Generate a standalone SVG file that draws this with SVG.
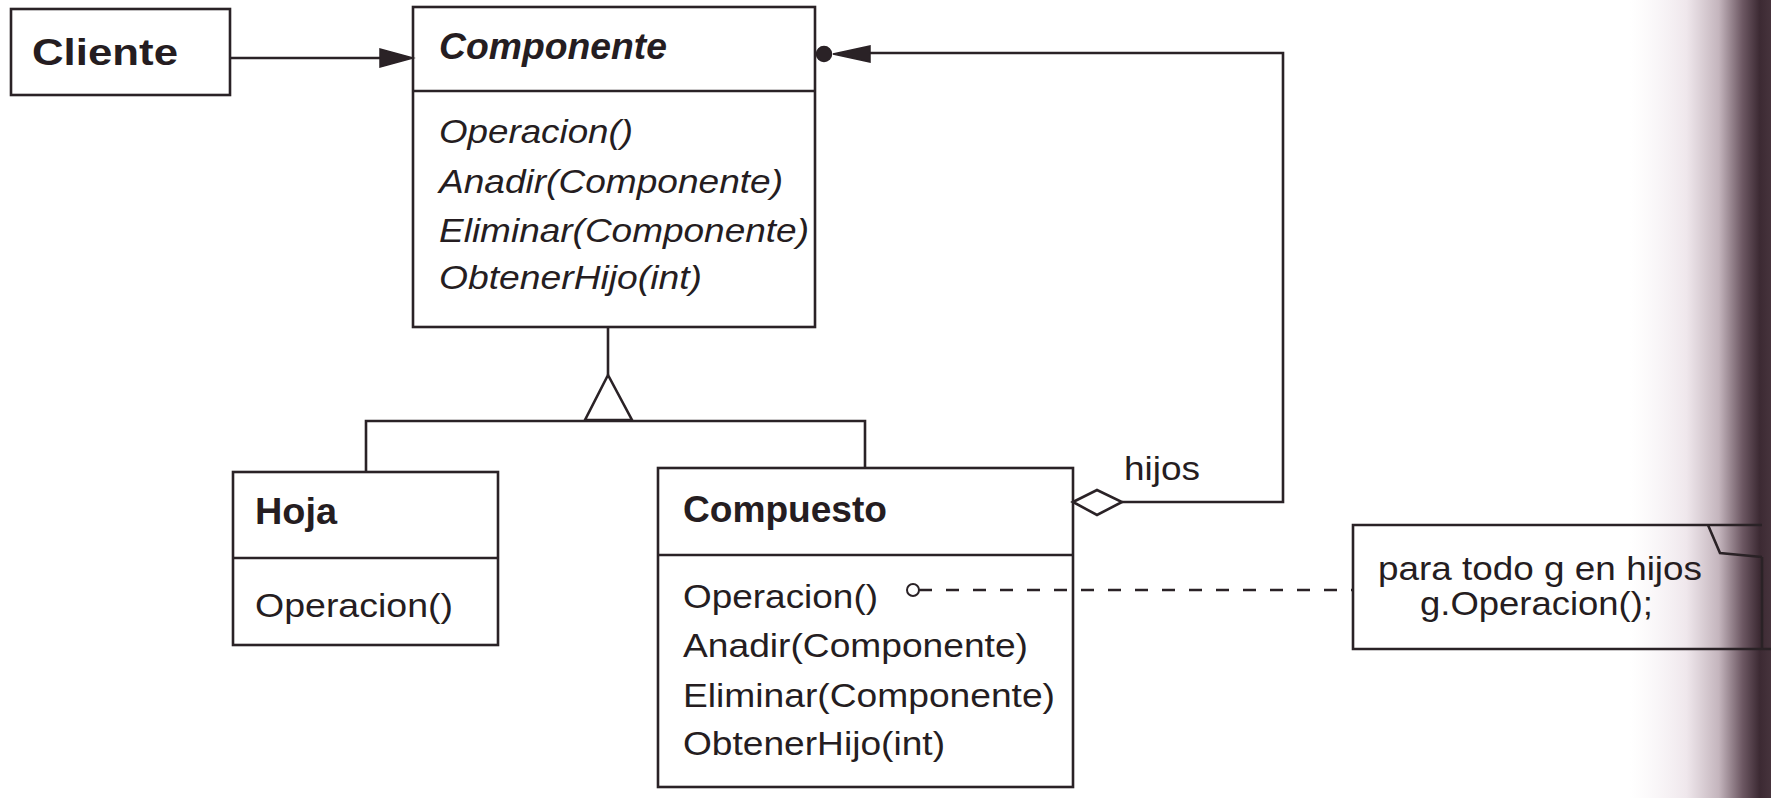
<svg xmlns="http://www.w3.org/2000/svg" width="1771" height="798" viewBox="0 0 1771 798">
  <style>
    .box { fill: none; stroke: #2a2226; stroke-width: 2.6; }
    .line { fill: none; stroke: #2a2226; stroke-width: 2.6; }
    .dash { fill: none; stroke: #2a2226; stroke-width: 2.6; stroke-dasharray: 13 14; }
    .solid { fill: #2a2226; stroke: #2a2226; stroke-width: 1.5; }
    .hollow { fill: #ffffff; stroke: #2a2226; stroke-width: 2.6; }
    text { font-family: "Liberation Sans", Arial, sans-serif; fill: #251d21; }
    .title { font-weight: bold; font-size: 37px; }
    .atitle { font-weight: bold; font-style: italic; font-size: 36px; }
    .op { font-size: 34px; }
    .aop { font-size: 34px; font-style: italic; }
    .lbl { font-size: 33px; }
  </style>
  <defs>
    <linearGradient id="shadow" x1="1630" y1="0" x2="1771" y2="0" gradientUnits="userSpaceOnUse">
      <stop offset="0" stop-color="#f6f1f4" stop-opacity="0"/>
      <stop offset="0.4" stop-color="#efe7ec"/>
      <stop offset="0.63" stop-color="#c4b5bd"/>
      <stop offset="0.8" stop-color="#6c5762"/>
      <stop offset="0.92" stop-color="#3c2a33"/>
      <stop offset="1" stop-color="#46333c"/>
    </linearGradient>
  </defs>
  <rect x="0" y="0" width="1771" height="798" fill="#ffffff"/>
  <rect x="1630" y="0" width="141" height="798" fill="url(#shadow)"/>

  <g id="connectors">
    <!-- Cliente -> Componente -->
    <line class="line" x1="230" y1="58" x2="384" y2="58"/>
    <polygon class="solid" points="413,58 380,49 380,67"/>
    <!-- inheritance -->
    <line class="line" x1="608" y1="327" x2="608" y2="375"/>
    <polygon class="hollow" points="608,375 585,420 632,420"/>
    <polyline class="line" points="366,472 366,421 865,421 865,468"/>
    <!-- aggregation hijos -->
    <polyline class="line" points="1122,502 1283,502 1283,53 868,53"/>
    <polygon class="solid" points="833,54 870,46 870,62"/>
    <circle class="solid" cx="824" cy="54" r="7.5"/>
    <polygon class="hollow" points="1073,502 1097,490 1122,502 1097,515"/>
    <text class="lbl" x="1124" y="480" textLength="76" lengthAdjust="spacingAndGlyphs">hijos</text>
    <!-- note link -->
    <circle cx="913" cy="590" r="6" fill="none" stroke="#2a2226" stroke-width="2"/>
    <line class="dash" x1="919" y1="590" x2="1353" y2="590"/>
  </g>

  <g id="cliente">
    <rect class="box" x="11" y="9" width="219" height="86"/>
    <text class="title" x="32" y="65" textLength="146" lengthAdjust="spacingAndGlyphs">Cliente</text>
  </g>

  <g id="componente">
    <rect class="box" x="413" y="7" width="402" height="320"/>
    <line class="line" x1="413" y1="91" x2="815" y2="91"/>
    <text class="atitle" x="439" y="59" textLength="228" lengthAdjust="spacingAndGlyphs">Componente</text>
    <text class="aop" x="439" y="143" textLength="194" lengthAdjust="spacingAndGlyphs">Operacion()</text>
    <text class="aop" x="439" y="193" textLength="344" lengthAdjust="spacingAndGlyphs">Anadir(Componente)</text>
    <text class="aop" x="439" y="242" textLength="370" lengthAdjust="spacingAndGlyphs">Eliminar(Componente)</text>
    <text class="aop" x="439" y="289" textLength="263" lengthAdjust="spacingAndGlyphs">ObtenerHijo(int)</text>
  </g>

  <g id="hoja">
    <rect class="box" x="233" y="472" width="265" height="173"/>
    <line class="line" x1="233" y1="558" x2="498" y2="558"/>
    <text class="title" x="255" y="524" textLength="82" lengthAdjust="spacingAndGlyphs">Hoja</text>
    <text class="op" x="255" y="617" textLength="198" lengthAdjust="spacingAndGlyphs">Operacion()</text>
  </g>

  <g id="compuesto">
    <rect class="box" x="658" y="468" width="415" height="319"/>
    <line class="line" x1="658" y1="555" x2="1073" y2="555"/>
    <text class="title" x="683" y="522" textLength="204" lengthAdjust="spacingAndGlyphs">Compuesto</text>
    <text class="op" x="683" y="608" textLength="195" lengthAdjust="spacingAndGlyphs">Operacion()</text>
    <text class="op" x="683" y="657" textLength="345" lengthAdjust="spacingAndGlyphs">Anadir(Componente)</text>
    <text class="op" x="683" y="707" textLength="372" lengthAdjust="spacingAndGlyphs">Eliminar(Componente)</text>
    <text class="op" x="683" y="755" textLength="262" lengthAdjust="spacingAndGlyphs">ObtenerHijo(int)</text>
  </g>

  <g id="nota">
    <path class="line" d="M1762,525 H1353 V649 H1771"/>
    <polyline class="line" points="1708,525 1720,553 1762,557"/>
    <line class="line" x1="1762" y1="557" x2="1762" y2="649"/>
    <text class="lbl" x="1378" y="580" textLength="324" lengthAdjust="spacingAndGlyphs">para todo g en hijos</text>
    <text class="lbl" x="1420" y="615" textLength="233" lengthAdjust="spacingAndGlyphs">g.Operacion();</text>
  </g>
</svg>
